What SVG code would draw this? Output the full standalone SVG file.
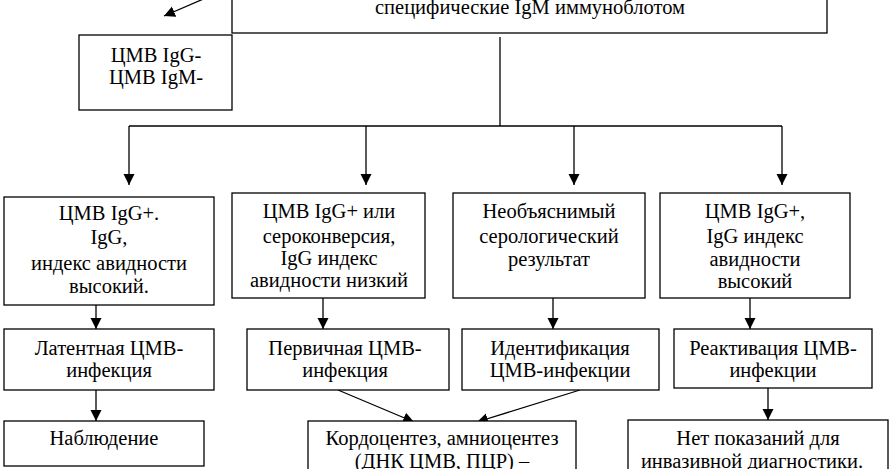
<svg xmlns="http://www.w3.org/2000/svg" width="893" height="469" viewBox="0 0 893 469">
<defs>
<marker id="ah" markerUnits="userSpaceOnUse" markerWidth="12" markerHeight="12" viewBox="0 0 12 12" refX="11" refY="6" orient="auto">
<path d="M0,0.5 L11,6 L0,11.5 Z" fill="#000"/>
</marker>
<style>
.box{fill:#fff;stroke:#000;stroke-width:1.3}
.t{font-family:"Liberation Serif","Times New Roman",serif;font-size:20.5px;fill:#000;text-anchor:middle}
.c{fill:none;stroke:#000;stroke-width:1.3}
.a{fill:none;stroke:#000;stroke-width:1.3;marker-end:url(#ah)}
</style>
</defs>
<rect width="893" height="469" fill="#fff"/>
<g id="connectors">
<line class="a" x1="215" y1="-6" x2="164" y2="16"/>
<line class="c" x1="500" y1="37" x2="500" y2="126" stroke="#444"/>
<line class="c" x1="129" y1="126" x2="782" y2="126"/>
<line class="a" x1="129" y1="126" x2="129" y2="185"/>
<line class="a" x1="366" y1="126" x2="366" y2="185"/>
<line class="a" x1="574" y1="126" x2="574" y2="185"/>
<line class="a" x1="782" y1="126" x2="782" y2="185"/>
<line class="a" x1="96" y1="305" x2="96" y2="329"/>
<line class="a" x1="96" y1="390" x2="96" y2="421"/>
<line class="a" x1="323" y1="298" x2="323" y2="329"/>
<line class="a" x1="553" y1="298" x2="553" y2="329"/>
<line class="a" x1="750" y1="298" x2="750" y2="329"/>
<line class="a" x1="768" y1="388" x2="768" y2="420"/>
<line class="a" x1="338" y1="390" x2="414" y2="422"/>
<line class="a" x1="580" y1="390" x2="477" y2="422"/>
</g>
<g id="top">
<rect class="box" x="232" y="-20" width="595" height="53"/>
<text class="t" x="530" y="14">специфические IgM иммуноблотом</text>
</g>
<g id="neg">
<rect class="box" x="79" y="35" width="153" height="75"/>
<text class="t" x="156" y="62">ЦМВ IgG-</text>
<text class="t" x="156" y="84">ЦМВ IgM-</text>
</g>
<g id="b1">
<rect class="box" x="4" y="197" width="210" height="108"/>
<text class="t" x="109" y="220">ЦМВ IgG+.</text>
<text class="t" x="109" y="244">IgG,</text>
<text class="t" x="109" y="270">индекс авидности</text>
<text class="t" x="109" y="293">высокий.</text>
</g>
<g id="b2">
<rect class="box" x="232" y="193" width="193" height="105"/>
<text class="t" x="329" y="218">ЦМВ IgG+  или</text>
<text class="t" x="329" y="243">сероконверсия,</text>
<text class="t" x="329" y="265">IgG индекс</text>
<text class="t" x="329" y="287">авидности низкий</text>
</g>
<g id="b3">
<rect class="box" x="453" y="193" width="192" height="105"/>
<text class="t" x="549" y="218">Необъяснимый</text>
<text class="t" x="549" y="243">серологический</text>
<text class="t" x="549" y="266">результат</text>
</g>
<g id="b4">
<rect class="box" x="660" y="193" width="190" height="105"/>
<text class="t" x="755" y="218">ЦМВ IgG+,</text>
<text class="t" x="755" y="243">IgG индекс</text>
<text class="t" x="755" y="266">авидности</text>
<text class="t" x="755" y="288">высокий</text>
</g>
<g id="latent">
<rect class="box" x="4" y="329" width="210" height="61"/>
<text class="t" x="109" y="355">Латентная ЦМВ-</text>
<text class="t" x="109" y="377">инфекция</text>
</g>
<g id="primary">
<rect class="box" x="247" y="329" width="202" height="61"/>
<text class="t" x="345" y="355">Первичная ЦМВ-</text>
<text class="t" x="345" y="377">инфекция</text>
</g>
<g id="ident">
<rect class="box" x="462" y="329" width="197" height="61"/>
<text class="t" x="560" y="355">Идентификация</text>
<text class="t" x="560" y="377">ЦМВ-инфекции</text>
</g>
<g id="react">
<rect class="box" x="674" y="329" width="198" height="59"/>
<text class="t" x="773" y="355">Реактивация ЦМВ-</text>
<text class="t" x="773" y="377">инфекции</text>
</g>
<g id="observe">
<rect class="box" x="4" y="421" width="200" height="45"/>
<text class="t" x="104" y="445">Наблюдение</text>
</g>
<g id="cordo">
<rect class="box" x="308" y="421" width="268" height="70"/>
<text class="t" x="442" y="445">Кордоцентез, амниоцентез</text>
<text class="t" x="442" y="468">(ДНК ЦМВ, ПЦР) –</text>
</g>
<g id="noind">
<rect class="box" x="628" y="420" width="260" height="70"/>
<text class="t" x="758" y="445">Нет показаний для</text>
<text class="t" x="752" y="468">инвазивной диагностики.</text>
</g>
</svg>
